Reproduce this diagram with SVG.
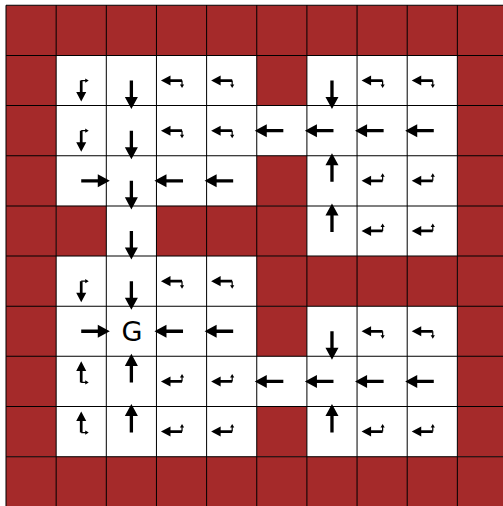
<svg xmlns="http://www.w3.org/2000/svg" xmlns:xlink="http://www.w3.org/1999/xlink" width="503" height="506" viewBox="0 0 503 506">
<style>
.wall{fill:#a52a2a}
.grid{fill:none;stroke:#000;stroke-width:1}
.arr{fill:#000}
.lbl{font-family:"DejaVu Sans",sans-serif;font-size:27px;fill:#000;text-anchor:middle}
</style>
<defs>
<path id="big" d="M0,-1.65 L16.5,-1.65 L16.5,-6.5 L28.5,0 L16.5,6.5 L16.5,1.65 L0,1.65 Z"/>
<path id="mid" d="M0,-1.35 L11.5,-1.35 L11.5,-5 L21,0 L11.5,5 L11.5,1.35 L0,1.35 Z"/>
<path id="sm" d="M0,-0.6 L4,-0.6 L4,-2.1 L7.5,0 L4,2.1 L4,0.6 L0,0.6 Z"/>
<g id="L"><use xlink:href="#big" transform="translate(1.5 0) rotate(180)"/></g>
<g id="R"><use xlink:href="#big"/></g>
<g id="D"><use xlink:href="#big" transform="rotate(90)"/></g>
<g id="U"><use xlink:href="#big" transform="translate(0 1) rotate(-90)"/></g>
<g id="DR"><use xlink:href="#mid" transform="rotate(90)"/><use xlink:href="#sm"/></g>
<g id="UR"><use xlink:href="#mid" transform="translate(0 1) rotate(-90)"/><use xlink:href="#sm" transform="translate(0 1)"/></g>
<g id="LD"><use xlink:href="#mid" transform="translate(0.5 0) rotate(180)"/><use xlink:href="#sm" transform="translate(0.5 0) rotate(90)"/></g>
<g id="LU"><use xlink:href="#mid" transform="translate(0.5 0) rotate(180)"/><use xlink:href="#sm" transform="translate(0.5 0) rotate(-90)"/></g>
</defs>
<rect x="0" y="0" width="503" height="506" fill="#fff"/>
<g transform="translate(6 5.3) scale(1.003)">
<g id="walls" class="wall">
<rect x="0" y="0" width="500" height="50"/>
<rect x="0" y="450" width="500" height="50"/>
<rect x="0" y="50" width="50" height="400"/>
<rect x="450" y="50" width="50" height="400"/>
<rect x="250" y="50" width="50" height="50"/>
<rect x="250" y="150" width="50" height="50"/>
<rect x="50" y="200" width="50" height="50"/>
<rect x="150" y="200" width="150" height="50"/>
<rect x="250" y="250" width="200" height="50"/>
<rect x="250" y="300" width="50" height="50"/>
<rect x="250" y="400" width="50" height="50"/>
</g>
<path id="gridlines" class="grid" d="M0,0V500M50,0V500M100,0V500M150,0V500M200,0V500M250,0V500M300,0V500M350,0V500M400,0V500M450,0V500M500,0V500M0,0H500M0,50H500M0,100H500M0,150H500M0,200H500M0,250H500M0,300H500M0,350H500M0,400H500M0,450H500M0,500H500"/>
<g id="arrows" class="arr">
<use xlink:href="#DR" x="75" y="75"/>
<use xlink:href="#D" x="125" y="75"/>
<use xlink:href="#LD" x="175" y="75"/>
<use xlink:href="#LD" x="225" y="75"/>
<use xlink:href="#D" x="325" y="75"/>
<use xlink:href="#LD" x="375" y="75"/>
<use xlink:href="#LD" x="425" y="75"/>

<use xlink:href="#DR" x="75" y="125"/>
<use xlink:href="#D" x="125" y="125"/>
<use xlink:href="#LD" x="175" y="125"/>
<use xlink:href="#LD" x="225" y="125"/>
<use xlink:href="#L" x="275" y="125"/>
<use xlink:href="#L" x="325" y="125"/>
<use xlink:href="#L" x="375" y="125"/>
<use xlink:href="#L" x="425" y="125"/>

<use xlink:href="#R" x="75" y="175"/>
<use xlink:href="#D" x="125" y="175"/>
<use xlink:href="#L" x="175" y="175"/>
<use xlink:href="#L" x="225" y="175"/>
<use xlink:href="#U" x="325" y="175"/>
<use xlink:href="#LU" x="375" y="175"/>
<use xlink:href="#LU" x="425" y="175"/>

<use xlink:href="#D" x="125" y="225"/>
<use xlink:href="#U" x="325" y="225"/>
<use xlink:href="#LU" x="375" y="225"/>
<use xlink:href="#LU" x="425" y="225"/>

<use xlink:href="#DR" x="75" y="275"/>
<use xlink:href="#D" x="125" y="275"/>
<use xlink:href="#LD" x="175" y="275"/>
<use xlink:href="#LD" x="225" y="275"/>

<use xlink:href="#R" x="75" y="325"/>
<use xlink:href="#L" x="175" y="325"/>
<use xlink:href="#L" x="225" y="325"/>
<use xlink:href="#D" x="325" y="325"/>
<use xlink:href="#LD" x="375" y="325"/>
<use xlink:href="#LD" x="425" y="325"/>

<use xlink:href="#UR" x="75" y="375"/>
<use xlink:href="#U" x="125" y="375"/>
<use xlink:href="#LU" x="175" y="375"/>
<use xlink:href="#LU" x="225" y="375"/>
<use xlink:href="#L" x="275" y="375"/>
<use xlink:href="#L" x="325" y="375"/>
<use xlink:href="#L" x="375" y="375"/>
<use xlink:href="#L" x="425" y="375"/>

<use xlink:href="#UR" x="75" y="425"/>
<use xlink:href="#U" x="125" y="425"/>
<use xlink:href="#LU" x="175" y="425"/>
<use xlink:href="#LU" x="225" y="425"/>
<use xlink:href="#U" x="325" y="425"/>
<use xlink:href="#LU" x="375" y="425"/>
<use xlink:href="#LU" x="425" y="425"/>
</g>
<g id="goal"><text class="lbl" x="125.5" y="335">G</text></g>
</g>
</svg>
